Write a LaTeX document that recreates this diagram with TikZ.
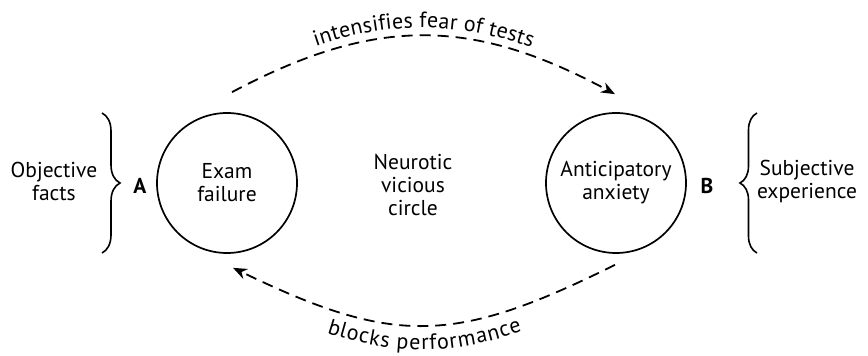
\documentclass[tikz,border=0pt]{standalone}
\usepackage{fontspec}
\setmainfont{PT Sans}
\usetikzlibrary{arrows.meta,decorations.pathreplacing,decorations.text}

\begin{document}
\begin{tikzpicture}[
    x = 1pt,
    y = 1pt,
    >={Stealth[length=14pt, width=11pt]},
    every node/.style = {font=\fontsize{21.5}{23}\selectfont, align=center},
    state/.style = {circle, draw=black, line width=1.7pt, minimum size=140pt,
              inner sep=0pt},
    loop_arrow/.style = {->, black, line width=1.8pt, dash pattern=on 11pt off 7pt},
    side_brace/.style = {decorate, decoration={brace, amplitude=18pt},
              line width=1.6pt},
    ]

\useasboundingbox (0,0) rectangle (868,356);

\node[state] (exam) at (227,173) {Exam\\failure};
\node[state] (anxiety) at (616,173) {Anticipatory\\anxiety};
\node (vicious) at (413,171) {Neurotic\\vicious\\circle};

\node[font=\fontsize{21.5}{23}\selectfont\bfseries] (label_a) at (140,170) {A};
\node[font=\fontsize{21.5}{23}\selectfont\bfseries] (label_b) at (707,170) {B};
\node (objective) at (54,175) {Objective\\facts};
\node (subjective) at (807,175) {Subjective\\experience};

\draw [side_brace] (102,243) -- (102,103);
\draw [side_brace, decoration={amplitude=17pt}] (757,103) -- (757,243);

\coordinate (exam_top) at ([shift={(5,20)}]exam.north);
\coordinate (anxiety_top) at ([shift={(-1,18)}]anxiety.north);
\coordinate (anxiety_bot) at ([shift={(-1,-11)}]anxiety.south);
\coordinate (exam_bot) at ([shift={(6,-14)}]exam.south);

\draw [loop_arrow] (exam_top) .. controls +(143,76) and +(-143,77) .. (anxiety_top);
\path [decorate, decoration={text along path, text align=center, raise=8pt,
    text={|\fontsize{22}{23}\selectfont|intensifies fear of tests}}]
    (exam_top) .. controls +(143,76) and +(-143,77) .. (anxiety_top);

\draw [loop_arrow] (anxiety_bot) .. controls +(-161,-80) and +(161,-78) .. (exam_bot);
\path [decorate, decoration={text along path, text align=center, raise=-24pt,
    text={|\fontsize{22}{23}\selectfont|blocks performance}}]
    (exam_bot) .. controls +(161,-78) and +(-161,-80) .. (anxiety_bot);

\end{tikzpicture}
\end{document}
